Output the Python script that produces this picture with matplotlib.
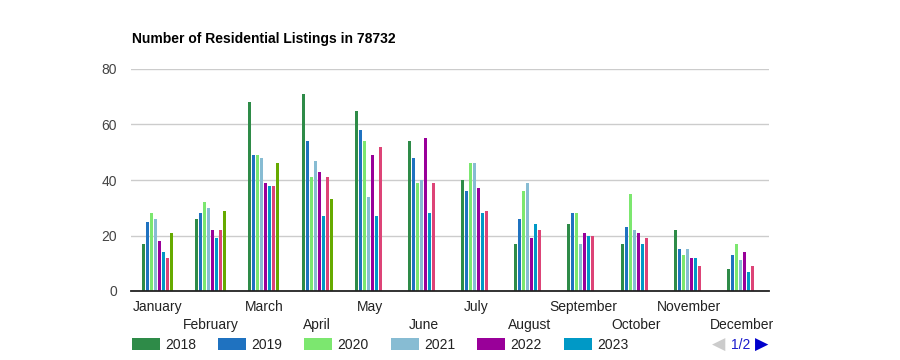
import numpy as np
import matplotlib.pyplot as plt

plt.rcParams['font.family'] = ['Liberation Sans', 'DejaVu Sans']

months = ['January', 'February', 'March', 'April', 'May', 'June', 'July',
          'August', 'September', 'October', 'November', 'December']
years = ['2018', '2019', '2020', '2021', '2022', '2023', '2024', '2025']

s2018 = [17, 26, 68, 71, 65, 54, 40, 17, 24, 17, 22, 8]
s2019 = [25, 28, 49, 54, 58, 48, 36, 26, 28, 23, 15, 13]
s2020 = [28, 32, 49, 41, 54, 39, 46, 36, 28, 35, 13, 17]
s2021 = [26, 30, 48, 47, 34, 40, 46, 39, 17, 22, 15, 11]
s2022 = [18, 22, 39, 43, 49, 55, 37, 19, 21, 21, 12, 14]
s2023 = [14, 19, 38, 27, 27, 28, 28, 24, 20, 17, 12, 7]
s2024 = [12, 22, 38, 41, 52, 39, 29, 22, 20, 19, 9, 9]
s2025 = [21, 29, 46, 33] + [np.nan] * 8
series = [s2018, s2019, s2020, s2021, s2022, s2023, s2024, s2025]

colors = ['#2e8b48', '#1f72c0', '#7ce76f', '#87bcd3', '#990099', '#0099c6',
          '#dd4477', '#66aa00']

fig = plt.figure(figsize=(9, 3.6), dpi=100)
ax = fig.add_axes([131/900, 69/360, 638/900, 222/360])

x = np.arange(len(months))
slot = 0.075
width = 0.056
bars = []
for i, (vals, c) in enumerate(zip(series, colors)):
    off = (i - (len(series) - 1) / 2) * slot
    b = ax.bar(x + off, vals, width=width, color=c, label=years[i], zorder=3)
    bars.append(b)

ax.set_xlim(-0.5, len(months) - 0.5)
ax.set_ylim(0, 80)
ax.set_yticks([0, 20, 40, 60, 80])
ax.grid(axis='y', color='#cccccc', linewidth=1, zorder=0)
for s in ['top', 'right', 'left']:
    ax.spines[s].set_visible(False)
ax.spines['bottom'].set_color('#222222')
ax.spines['bottom'].set_linewidth(1.3)
ax.spines['bottom'].set_zorder(4)

ax.set_xticks(x[::2])
ax.set_xticklabels(months[::2])
ax.set_xticks(x[1::2], minor=True)
ax.set_xticklabels(months[1::2], minor=True)
ax.tick_params(axis='x', which='major', length=0, pad=6.5, labelsize=10, colors='#222222')
ax.tick_params(axis='x', which='minor', length=0, pad=19.5, labelsize=10, colors='#222222')
ax.tick_params(axis='y', length=0, pad=10, labelsize=10, colors='#444444')

fig.text(132/900, 1 - 39/360, 'Number of Residential Listings in 78732',
         fontsize=10, fontweight='bold', va='center', ha='left', color='#000000')

fig.legend(handles=bars[:6], loc='center left', ncol=6,
           bbox_to_anchor=(132/900, 1 - 345/360), frameon=False,
           fontsize=10, handlelength=2.0, handleheight=1.0,
           handletextpad=0.38, columnspacing=1.6, borderpad=0, borderaxespad=0,
           labelcolor='#222222')

fig.text(719/900, 1 - 345/360, '\u25c0', fontsize=12.5, color='#cccccc',
         family='DejaVu Sans', ha='center', va='center')
fig.text(741/900, 1 - 345/360, '1/2', fontsize=10, color='#1a1acc',
         ha='center', va='center')
fig.text(762/900, 1 - 345/360, '\u25b6', fontsize=12.5, color='#0000cc',
         family='DejaVu Sans', ha='center', va='center')

fig.savefig('out.png', dpi=100, facecolor='white')
